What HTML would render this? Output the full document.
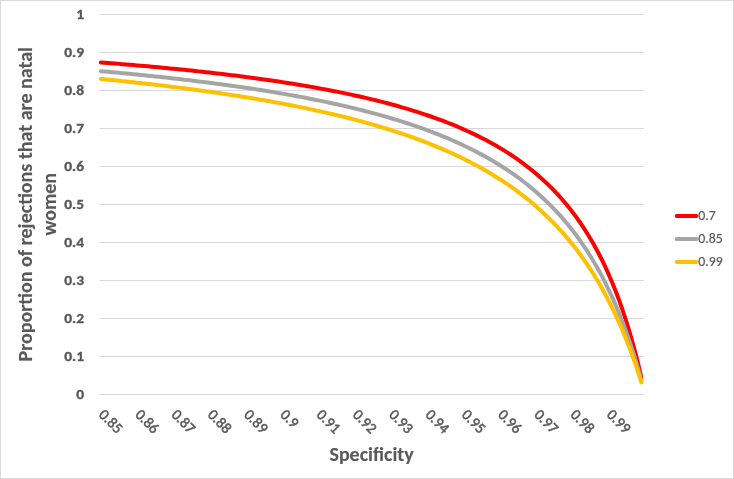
<!DOCTYPE html><html><head><meta charset="utf-8"><title>Chart</title><style>html,body{margin:0;padding:0;background:#fff;}
svg{display:block;will-change:transform;}
text{font-family:Carlito, 'Liberation Sans', Arial, sans-serif;fill:#595959;stroke:#595959;}
.yl{font-size:14.8px;font-weight:bold;stroke-width:0.35px;}
.xl{font-size:15px;stroke-width:0.5px;}
.lg{font-size:13.8px;stroke-width:0.15px;}
.tt{font-size:19.2px;font-weight:bold;stroke-width:0.12px;}
</style></head><body>
<svg width="734" height="479" viewBox="0 0 734 479">
<rect x="0.5" y="0.5" width="733" height="478" fill="#fff" stroke="#d9d9d9" stroke-width="1"/>
<path d="M99.5 394.5H643.7M99.5 356.5H643.7M99.5 318.5H643.7M99.5 280.5H643.7M99.5 242.5H643.7M99.5 204.5H643.7M99.5 166.5H643.7M99.5 128.5H643.7M99.5 90.5H643.7M99.5 52.5H643.7M99.5 14.5H643.7" stroke="#d9d9d9" stroke-width="1" fill="none"/>
<text x="84.10" y="399.00" text-anchor="end" class="yl" textLength="7.84" lengthAdjust="spacingAndGlyphs">0</text>
<text x="84.10" y="361.00" text-anchor="end" class="yl" textLength="19.81" lengthAdjust="spacingAndGlyphs">0.1</text>
<text x="84.10" y="323.00" text-anchor="end" class="yl" textLength="19.81" lengthAdjust="spacingAndGlyphs">0.2</text>
<text x="84.10" y="285.00" text-anchor="end" class="yl" textLength="19.81" lengthAdjust="spacingAndGlyphs">0.3</text>
<text x="84.10" y="247.00" text-anchor="end" class="yl" textLength="19.81" lengthAdjust="spacingAndGlyphs">0.4</text>
<text x="84.10" y="209.00" text-anchor="end" class="yl" textLength="19.81" lengthAdjust="spacingAndGlyphs">0.5</text>
<text x="84.10" y="171.00" text-anchor="end" class="yl" textLength="19.81" lengthAdjust="spacingAndGlyphs">0.6</text>
<text x="84.10" y="133.00" text-anchor="end" class="yl" textLength="19.81" lengthAdjust="spacingAndGlyphs">0.7</text>
<text x="84.10" y="95.00" text-anchor="end" class="yl" textLength="19.81" lengthAdjust="spacingAndGlyphs">0.8</text>
<text x="84.10" y="57.00" text-anchor="end" class="yl" textLength="19.81" lengthAdjust="spacingAndGlyphs">0.9</text>
<text x="84.10" y="19.00" text-anchor="end" class="yl" textLength="7.84" lengthAdjust="spacingAndGlyphs">1</text>
<text transform="translate(98.11,415.50) rotate(45)" class="xl" textLength="26.59" lengthAdjust="spacingAndGlyphs">0.85</text>
<text transform="translate(134.39,415.50) rotate(45)" class="xl" textLength="26.59" lengthAdjust="spacingAndGlyphs">0.86</text>
<text transform="translate(170.67,415.50) rotate(45)" class="xl" textLength="26.59" lengthAdjust="spacingAndGlyphs">0.87</text>
<text transform="translate(206.95,415.50) rotate(45)" class="xl" textLength="26.59" lengthAdjust="spacingAndGlyphs">0.88</text>
<text transform="translate(243.23,415.50) rotate(45)" class="xl" textLength="26.59" lengthAdjust="spacingAndGlyphs">0.89</text>
<text transform="translate(279.51,415.50) rotate(45)" class="xl" textLength="18.99" lengthAdjust="spacingAndGlyphs">0.9</text>
<text transform="translate(315.79,415.50) rotate(45)" class="xl" textLength="26.59" lengthAdjust="spacingAndGlyphs">0.91</text>
<text transform="translate(352.07,415.50) rotate(45)" class="xl" textLength="26.59" lengthAdjust="spacingAndGlyphs">0.92</text>
<text transform="translate(388.35,415.50) rotate(45)" class="xl" textLength="26.59" lengthAdjust="spacingAndGlyphs">0.93</text>
<text transform="translate(424.63,415.50) rotate(45)" class="xl" textLength="26.59" lengthAdjust="spacingAndGlyphs">0.94</text>
<text transform="translate(460.91,415.50) rotate(45)" class="xl" textLength="26.59" lengthAdjust="spacingAndGlyphs">0.95</text>
<text transform="translate(497.19,415.50) rotate(45)" class="xl" textLength="26.59" lengthAdjust="spacingAndGlyphs">0.96</text>
<text transform="translate(533.47,415.50) rotate(45)" class="xl" textLength="26.59" lengthAdjust="spacingAndGlyphs">0.97</text>
<text transform="translate(569.75,415.50) rotate(45)" class="xl" textLength="26.59" lengthAdjust="spacingAndGlyphs">0.98</text>
<text transform="translate(606.03,415.50) rotate(45)" class="xl" textLength="26.59" lengthAdjust="spacingAndGlyphs">0.99</text>
<polyline points="100.81,62.43 104.44,62.71 108.07,62.99 111.70,63.28 115.33,63.57 118.95,63.87 122.58,64.16 126.21,64.47 129.84,64.77 133.47,65.08 137.09,65.39 140.72,65.71 144.35,66.03 147.98,66.36 151.61,66.68 155.23,67.02 158.86,67.35 162.49,67.70 166.12,68.04 169.75,68.39 173.37,68.75 177.00,69.11 180.63,69.47 184.26,69.84 187.89,70.22 191.51,70.60 195.14,70.98 198.77,71.37 202.40,71.77 206.03,72.17 209.65,72.58 213.28,72.99 216.91,73.41 220.54,73.84 224.17,74.27 227.79,74.70 231.42,75.15 235.05,75.60 238.68,76.06 242.31,76.52 245.93,76.99 249.56,77.47 253.19,77.95 256.82,78.45 260.45,78.95 264.07,79.46 267.70,79.97 271.33,80.50 274.96,81.03 278.59,81.58 282.21,82.13 285.84,82.69 289.47,83.26 293.10,83.84 296.73,84.43 300.35,85.03 303.98,85.64 307.61,86.26 311.24,86.89 314.87,87.53 318.49,88.18 322.12,88.85 325.75,89.53 329.38,90.22 333.01,90.92 336.63,91.64 340.26,92.37 343.89,93.11 347.52,93.87 351.15,94.64 354.77,95.43 358.40,96.24 362.03,97.06 365.66,97.89 369.29,98.75 372.91,99.62 376.54,100.51 380.17,101.42 383.80,102.35 387.43,103.29 391.05,104.26 394.68,105.25 398.31,106.27 401.94,107.30 405.57,108.36 409.19,109.44 412.82,110.55 416.45,111.69 420.08,112.85 423.71,114.04 427.33,115.26 430.96,116.51 434.59,117.79 438.22,119.10 441.85,120.45 445.47,121.83 449.10,123.25 452.73,124.71 456.36,126.20 459.99,127.74 463.61,129.32 467.24,130.95 470.87,132.62 474.50,134.34 478.13,136.11 481.75,137.93 485.38,139.81 489.01,141.75 492.64,143.75 496.27,145.81 499.89,147.94 503.52,150.15 507.15,152.42 510.78,154.77 514.41,157.20 518.03,159.72 521.66,162.33 525.29,165.04 528.92,167.84 532.55,170.76 536.17,173.78 539.80,176.93 543.43,180.20 547.06,183.60 550.69,187.15 554.31,190.85 557.94,194.72 561.57,198.75 565.20,202.97 568.83,207.39 572.45,212.02 576.08,216.88 579.71,221.99 583.34,227.36 586.97,233.01 590.59,238.97 594.22,245.27 597.85,251.93 601.48,258.99 605.11,266.47 608.73,274.43 612.36,282.92 615.99,291.97 619.62,301.65 623.25,312.04 626.87,323.20 630.50,335.24 634.13,348.25 637.76,362.36 641.39,377.72" fill="none" stroke="#FF0000" stroke-width="4" stroke-linejoin="round" stroke-linecap="round"/>
<polyline points="100.81,71.17 104.44,71.49 108.07,71.82 111.70,72.15 115.33,72.48 118.95,72.82 122.58,73.16 126.21,73.51 129.84,73.86 133.47,74.22 137.09,74.57 140.72,74.94 144.35,75.31 147.98,75.68 151.61,76.06 155.23,76.44 158.86,76.82 162.49,77.21 166.12,77.61 169.75,78.01 173.37,78.42 177.00,78.83 180.63,79.25 184.26,79.67 187.89,80.10 191.51,80.53 195.14,80.97 198.77,81.42 202.40,81.87 206.03,82.32 209.65,82.79 213.28,83.26 216.91,83.73 220.54,84.22 224.17,84.71 227.79,85.20 231.42,85.71 235.05,86.22 238.68,86.74 242.31,87.26 245.93,87.80 249.56,88.34 253.19,88.89 256.82,89.45 260.45,90.01 264.07,90.59 267.70,91.17 271.33,91.77 274.96,92.37 278.59,92.98 282.21,93.60 285.84,94.23 289.47,94.87 293.10,95.53 296.73,96.19 300.35,96.86 303.98,97.55 307.61,98.24 311.24,98.95 314.87,99.67 318.49,100.40 322.12,101.15 325.75,101.91 329.38,102.68 333.01,103.46 336.63,104.26 340.26,105.08 343.89,105.91 347.52,106.75 351.15,107.61 354.77,108.49 358.40,109.38 362.03,110.29 365.66,111.22 369.29,112.16 372.91,113.13 376.54,114.11 380.17,115.11 383.80,116.14 387.43,117.18 391.05,118.25 394.68,119.34 398.31,120.45 401.94,121.58 405.57,122.74 409.19,123.93 412.82,125.14 416.45,126.38 420.08,127.65 423.71,128.94 427.33,130.27 430.96,131.63 434.59,133.02 438.22,134.44 441.85,135.90 445.47,137.39 449.10,138.92 452.73,140.49 456.36,142.10 459.99,143.75 463.61,145.45 467.24,147.19 470.87,148.97 474.50,150.81 478.13,152.69 481.75,154.63 485.38,156.62 489.01,158.67 492.64,160.79 496.27,162.96 499.89,165.20 503.52,167.51 507.15,169.89 510.78,172.34 514.41,174.88 518.03,177.49 521.66,180.20 525.29,182.99 528.92,185.88 532.55,188.87 536.17,191.97 539.80,195.18 543.43,198.51 547.06,201.96 550.69,205.55 554.31,209.27 557.94,213.15 561.57,217.18 565.20,221.37 568.83,225.75 572.45,230.31 576.08,235.08 579.71,240.06 583.34,245.27 586.97,250.73 590.59,256.45 594.22,262.45 597.85,268.76 601.48,275.40 605.11,282.40 608.73,289.78 612.36,297.59 615.99,305.84 619.62,314.59 623.25,323.89 626.87,333.78 630.50,344.32 634.13,355.58 637.76,367.63 641.39,380.57" fill="none" stroke="#A5A5A5" stroke-width="4" stroke-linejoin="round" stroke-linecap="round"/>
<polyline points="100.81,78.92 104.44,79.28 108.07,79.64 111.70,80.01 115.33,80.38 118.95,80.75 122.58,81.13 126.21,81.52 129.84,81.90 133.47,82.30 137.09,82.69 140.72,83.10 144.35,83.50 147.98,83.91 151.61,84.33 155.23,84.75 158.86,85.18 162.49,85.61 166.12,86.05 169.75,86.49 173.37,86.94 177.00,87.39 180.63,87.85 184.26,88.32 187.89,88.79 191.51,89.27 195.14,89.75 198.77,90.24 202.40,90.74 206.03,91.24 209.65,91.75 213.28,92.26 216.91,92.79 220.54,93.32 224.17,93.86 227.79,94.40 231.42,94.95 235.05,95.51 238.68,96.08 242.31,96.66 245.93,97.24 249.56,97.83 253.19,98.44 256.82,99.05 260.45,99.66 264.07,100.29 267.70,100.93 271.33,101.58 274.96,102.23 278.59,102.90 282.21,103.58 285.84,104.26 289.47,104.96 293.10,105.67 296.73,106.39 300.35,107.12 303.98,107.87 307.61,108.62 311.24,109.39 314.87,110.17 318.49,110.96 322.12,111.77 325.75,112.59 329.38,113.42 333.01,114.27 336.63,115.13 340.26,116.01 343.89,116.90 347.52,117.81 351.15,118.74 354.77,119.68 358.40,120.64 362.03,121.62 365.66,122.61 369.29,123.63 372.91,124.66 376.54,125.71 380.17,126.79 383.80,127.88 387.43,129.00 391.05,130.14 394.68,131.30 398.31,132.48 401.94,133.69 405.57,134.92 409.19,136.18 412.82,137.47 416.45,138.78 420.08,140.12 423.71,141.49 427.33,142.90 430.96,144.33 434.59,145.79 438.22,147.29 441.85,148.83 445.47,150.39 449.10,152.00 452.73,153.64 456.36,155.33 459.99,157.05 463.61,158.82 467.24,160.63 470.87,162.49 474.50,164.40 478.13,166.36 481.75,168.37 485.38,170.43 489.01,172.55 492.64,174.72 496.27,176.96 499.89,179.26 503.52,181.63 507.15,184.06 510.78,186.57 514.41,189.15 518.03,191.81 521.66,194.56 525.29,197.39 528.92,200.31 532.55,203.32 536.17,206.44 539.80,209.66 543.43,212.99 547.06,216.43 550.69,220.00 554.31,223.69 557.94,227.52 561.57,231.50 565.20,235.62 568.83,239.90 572.45,244.36 576.08,248.99 579.71,253.81 583.34,258.84 586.97,264.08 590.59,269.55 594.22,275.27 597.85,281.25 601.48,287.50 605.11,294.06 608.73,300.95 612.36,308.18 615.99,315.78 619.62,323.79 623.25,332.24 626.87,341.16 630.50,350.59 634.13,360.59 637.76,371.20 641.39,382.48" fill="none" stroke="#FFC000" stroke-width="4" stroke-linejoin="round" stroke-linecap="round"/>
<text x="371.60" y="461.30" text-anchor="middle" class="tt" textLength="84.31" lengthAdjust="spacingAndGlyphs">Specificity</text>
<text transform="translate(31.5,204.3) rotate(-90)" text-anchor="middle" class="tt" textLength="314.46" lengthAdjust="spacingAndGlyphs">Proportion of rejections that are natal</text>
<text transform="translate(55.5,204.3) rotate(-90)" text-anchor="middle" class="tt" textLength="62.56" lengthAdjust="spacingAndGlyphs">women</text>
<line x1="676.7" y1="215.9" x2="696.4" y2="215.9" stroke="#FF0000" stroke-width="4" stroke-linecap="round"/>
<text x="698.20" y="219.80" class="lg" textLength="17.47" lengthAdjust="spacingAndGlyphs">0.7</text>
<line x1="676.7" y1="238.9" x2="696.4" y2="238.9" stroke="#A5A5A5" stroke-width="4" stroke-linecap="round"/>
<text x="698.20" y="242.80" class="lg" textLength="24.47" lengthAdjust="spacingAndGlyphs">0.85</text>
<line x1="676.7" y1="261.9" x2="696.4" y2="261.9" stroke="#FFC000" stroke-width="4" stroke-linecap="round"/>
<text x="698.20" y="265.80" class="lg" textLength="24.47" lengthAdjust="spacingAndGlyphs">0.99</text>
</svg></body></html>
